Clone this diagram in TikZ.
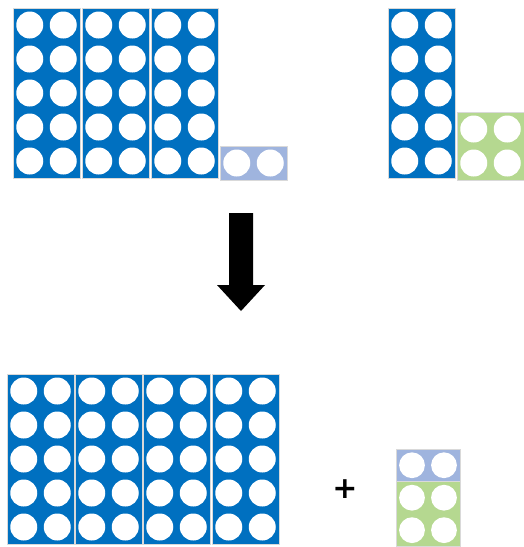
\documentclass[tikz,border=0pt]{standalone}
\usepackage{fontspec}
\usepackage{tikz}
\usetikzlibrary{arrows.meta, positioning}

\definecolor{tenblue}{HTML}{0070C0}
\definecolor{twoblue}{HTML}{9FB4DE}
\definecolor{fourgreen}{HTML}{B5D890}
\newfontfamily\plusfont{DejaVu Sans}

% x, y, columns, rows, colour
\newcommand{\numblock}[5]{%
  \fill[#5, draw=black!15, line width=0.8pt] (#1,#2) rectangle ++(#3*33.5, #4*34);
  \foreach \c in {1,...,#3} {
    \foreach \r in {1,...,#4} {
      \fill[white] (#1+\c*33.5-16.75, #2+\r*34-17) circle (13.5pt);
    }
  }
}

\begin{document}
\begin{tikzpicture}[
  x=1pt, y=-1pt,
  bigarrow/.style={fill=black},
  plussign/.style={font=\plusfont\bfseries\fontsize{30}{30}\selectfont, inner sep=0pt},
]
  \useasboundingbox (0,0) rectangle (524,547);

  % top left: three tens and a two
  \foreach \x in {13, 82, 151} {
    \numblock{\x}{8}{2}{5}{tenblue}
  }
  \numblock{220}{146}{2}{1}{twoblue}

  % top right: a ten and a four
  \numblock{388}{8}{2}{5}{tenblue}
  \numblock{457}{112}{2}{2}{fourgreen}

  % arrow
  \fill[bigarrow] (229,213) -- (253,213) -- (253,285) -- (265,285) -- (241,311)
    -- (217,285) -- (229,285) -- cycle;

  % bottom: four tens, plus, two and four
  \foreach \x in {7, 75, 143, 212} {
    \numblock{\x}{374}{2}{5}{tenblue}
  }
  \node[plussign] (plus) at (345,489) {+};
  \begin{scope}[shift={(396,449)}, scale=0.955]
    \numblock{0}{0}{2}{1}{twoblue}
    \numblock{0}{34}{2}{2}{fourgreen}
  \end{scope}
\end{tikzpicture}
\end{document}
